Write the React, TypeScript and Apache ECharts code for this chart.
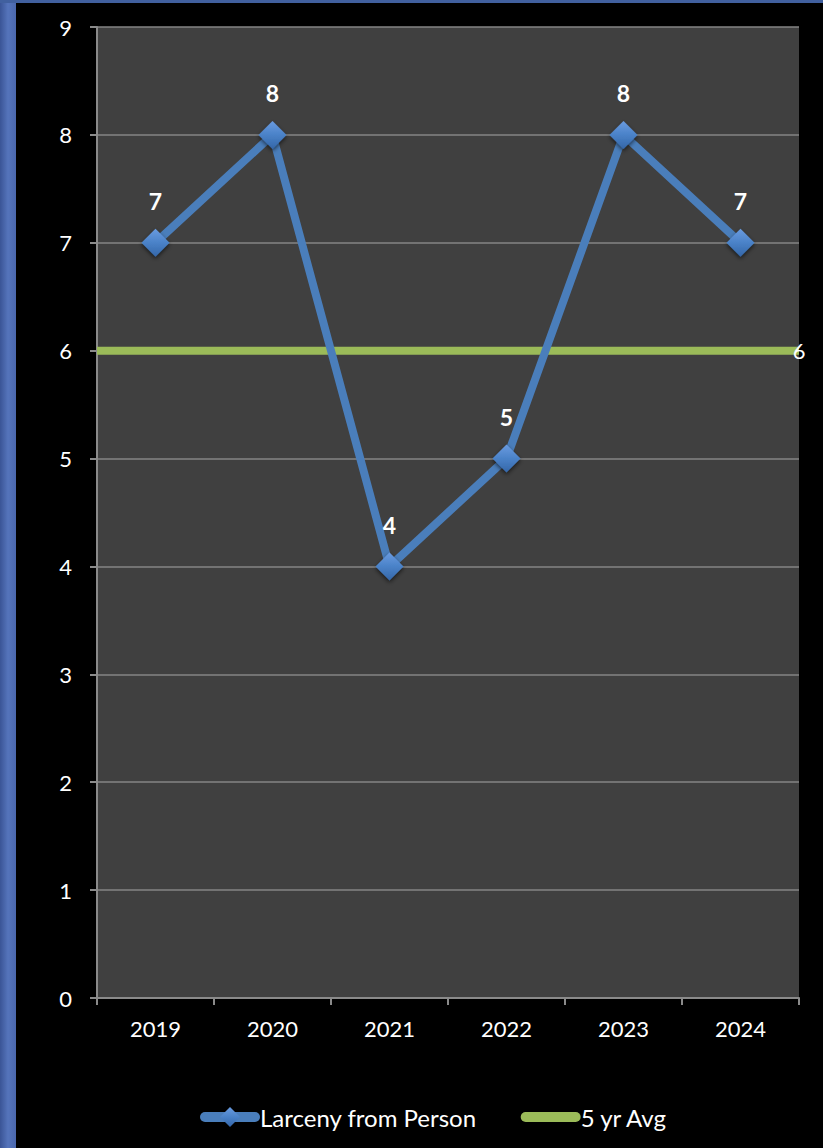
import React, { useEffect, useRef } from "react";
import * as echarts from "echarts";

const categories = ["2019", "2020", "2021", "2022", "2023", "2024"];
const larcenyValues = [7, 8, 4, 5, 8, 7];
const avgValues = [6, 6, 6, 6, 6, 6];
const seriesNames = ["Larceny from Person", "5 yr Avg"];
const yMin = 0;
const yMax = 9;
const yInterval = 1;

const FONT = "Lato, 'Open Sans', sans-serif";

export default function App() {
  const ref = useRef<HTMLDivElement>(null);
  useEffect(() => {
    const chart = echarts.init(ref.current!, undefined, { renderer: "svg" });
    const blueFill = new echarts.graphic.LinearGradient(0, 0, 0, 1, [
      { offset: 0, color: "#6a9be0" },
      { offset: 0.5, color: "#4a82c8" },
      { offset: 1, color: "#3466a8" },
    ]);
    const avgData = avgValues.map((v, i) =>
      i === avgValues.length - 1
        ? {
            value: v,
            label: {
              show: true,
              position: "inside",
              color: "#ffffff",
              fontSize: 22,
              fontFamily: FONT,
              formatter: "{c}",
            },
          }
        : v
    );
    chart.setOption({
      animation: false,
      backgroundColor: "#000000",
      graphic: [
        {
          type: "rect",
          shape: { x: 0, y: 0, width: 16, height: 1148 },
          style: {
            fill: new echarts.graphic.LinearGradient(0, 0, 1, 0, [
              { offset: 0, color: "#3a5496" },
              { offset: 0.5, color: "#5574bb" },
              { offset: 1, color: "#4a67ad" },
            ]),
          },
          z: 10,
        },
        {
          type: "rect",
          shape: { x: 0, y: 0, width: 823, height: 3 },
          style: { fill: "#41609f" },
          z: 10,
        },
      ],
      grid: {
        left: 97,
        top: 27,
        right: 24,
        bottom: 150,
        show: true,
        backgroundColor: "#404040",
        borderWidth: 0,
      },
      legend: {
        left: 195,
        top: 1100,
        itemWidth: 50,
        itemHeight: 25,
        itemGap: 44,
        textStyle: { color: "#ffffff", fontSize: 24, fontFamily: FONT },
        lineStyle: { width: 10, cap: "round" },
        data: [
          { name: seriesNames[0] },
          { name: seriesNames[1], itemStyle: { opacity: 0 } },
        ],
      },
      xAxis: [
        {
          type: "category",
          data: categories,
          boundaryGap: true,
          axisLine: { show: true, lineStyle: { color: "#8a8a8a", width: 2 } },
          axisTick: { show: true, length: 7, lineStyle: { color: "#8a8a8a", width: 2 } },
          axisLabel: { color: "#ffffff", fontSize: 22, fontFamily: FONT, margin: 19 },
          splitLine: { show: false },
        },
        {
          type: "category",
          data: categories,
          boundaryGap: false,
          show: false,
        },
      ],
      yAxis: {
        type: "value",
        min: yMin,
        max: yMax,
        interval: yInterval,
        axisLine: { show: true, lineStyle: { color: "#8a8a8a", width: 2 } },
        axisTick: { show: true, length: 7, lineStyle: { color: "#8a8a8a", width: 2 } },
        axisLabel: { color: "#ffffff", fontSize: 22, fontFamily: FONT, margin: 25 },
        splitLine: { show: true, lineStyle: { color: "#858585", width: 1.5 } },
      },
      series: [
        {
          name: seriesNames[1],
          type: "line",
          xAxisIndex: 1,
          data: avgData,
          symbol: "circle",
          symbolSize: 1,
          showSymbol: true,
          itemStyle: { color: "rgba(155,187,89,0)" },
          lineStyle: { color: "#9bbb59", width: 8 },
          label: { show: false },
          z: 2,
        },
        {
          name: seriesNames[0],
          type: "line",
          xAxisIndex: 0,
          data: larcenyValues,
          symbol: "diamond",
          symbolSize: 28,
          itemStyle: {
            color: blueFill,
            shadowBlur: 4,
            shadowColor: "rgba(0,0,0,0.6)",
            shadowOffsetY: 2,
          },
          lineStyle: { color: "#4a7ebb", width: 8 },
          label: {
            show: true,
            position: "top",
            distance: 16,
            color: "#ffffff",
            fontSize: 23,
            fontWeight: "bold",
            fontFamily: FONT,
          },
          z: 3,
        },
      ],
    });
    return () => chart.dispose();
  }, []);
  return (
    <div
      ref={ref}
      style={{ position: "absolute", left: 0, top: 0, width: 823, height: 1148 }}
    />
  );
}
